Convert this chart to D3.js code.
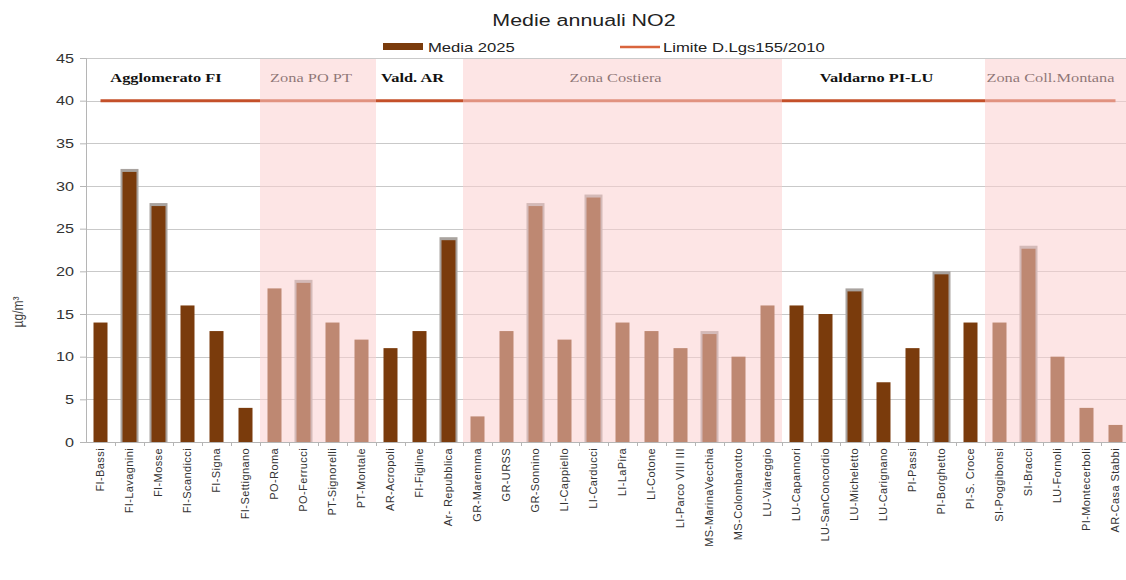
<!DOCTYPE html>
<html>
<head>
<meta charset="utf-8">
<script src="https://cdn.jsdelivr.net/npm/d3@7"></script>
<style>
  html, body { margin: 0; padding: 0; background: #fff; }
  svg { display: block; }
</style>
</head>
<body>
<svg id="chart" width="1126" height="580"></svg>
<script>
// Stations and their 2025 annual mean NO2 (µg/m³)
const stations = [
  "FI-Bassi", "FI-Lavagnini", "FI-Mosse", "FI-Scandicci", "FI-Signa", "FI-Settignano",
  "PO-Roma", "PO-Ferrucci", "PT-Signorelli", "PT-Montale",
  "AR-Acropoli", "FI-Figline", "Ar- Repubblica",
  "GR-Maremma", "GR-URSS", "GR-Sonnino", "LI-Cappiello", "LI-Carducci", "LI-LaPira",
  "LI-Cotone", "LI-Parco VIII III", "MS-MarinaVecchia", "MS-Colombarotto", "LU-Viareggio",
  "LU-Capannori", "LU-SanConcordio", "LU-Micheletto", "LU-Carignano", "PI-Passi",
  "PI-Borghetto", "PI-S. Croce",
  "SI-Poggibonsi", "SI-Bracci", "LU-Fornoli", "PI-Montecerboli", "AR-Casa Stabbi"
];
const media2025 = [
  14, 32, 28, 16, 13, 4,
  18, 19, 14, 12,
  11, 13, 24,
  3, 13, 28, 12, 29, 14, 13, 11, 13, 10, 16,
  16, 15, 18, 7, 11, 20, 14,
  14, 23, 10, 4, 2
];
// Stations drawn with a grey outline
const outlined = [
  "FI-Lavagnini", "FI-Mosse", "PO-Ferrucci", "Ar- Repubblica", "GR-Sonnino",
  "LI-Carducci", "MS-MarinaVecchia", "LU-Micheletto", "PI-Borghetto", "SI-Bracci"
];
// Legal limit (D.Lgs 155/2010)
const limitValue = 40;

// Zones
const zoneNames  = ["Agglomerato FI", "Zona PO PT", "Vald. AR", "Zona Costiera", "Valdarno PI-LU", "Zona Coll.Montana"];
const zoneFirst  = ["FI-Bassi", "PO-Roma", "AR-Acropoli", "GR-Maremma", "LU-Capannori", "SI-Poggibonsi"];
const zoneLast   = ["FI-Settignano", "PT-Montale", "Ar- Repubblica", "LU-Viareggio", "PI-S. Croce", "AR-Casa Stabbi"];
const zoneShaded = [false, true, false, true, false, true];

const yTicks = [0, 5, 10, 15, 20, 25, 30, 35, 40, 45];

const svg = d3.select("#chart");
const plotLeft = 86, plotRight = 1130, plotTop = 58, plotBottom = 442;
const sans = "'Liberation Sans', Arial, sans-serif";
const serif = "'Liberation Serif', 'Times New Roman', serif";
const stretch = 1.26; // horizontal stretch applied to horizontal text

const x = d3.scaleBand().domain(stations).range([plotLeft, plotRight]).paddingInner(0).paddingOuter(0);
const y = d3.scaleLinear().domain([0, 45]).range([plotBottom, plotTop]);
const bw = 14;
const cx = s => x(s) + x.bandwidth() / 2;

const dark = "#7a3b0c";

function hText(px, py, str, opts) {
  const t = svg.append("text")
    .attr("transform", `translate(${px},${py}) scale(${stretch},1)`)
    .style("font-family", opts.family || sans)
    .style("font-size", opts.size + "px")
    .style("font-weight", opts.weight || "normal")
    .attr("text-anchor", opts.anchor || "start")
    .attr("fill", opts.fill || "#222")
    .text(str);
  return t;
}

// Title
hText(584, 26, "Medie annuali NO2", { size: 17, anchor: "middle" });

// Legend
svg.append("rect").attr("x", 383).attr("y", 43).attr("width", 40).attr("height", 7).attr("fill", dark);
hText(428, 52, "Media 2025", { size: 13.2 });
svg.append("line").attr("x1", 620).attr("x2", 660).attr("y1", 47).attr("y2", 47)
  .attr("stroke", "#d9653d").attr("stroke-width", 2.5);
hText(663, 52, "Limite D.Lgs155/2010", { size: 13.2 });

// Gridlines
svg.append("g").selectAll("line").data(yTicks).join("line")
  .attr("x1", plotLeft).attr("x2", 1126)
  .attr("y1", d => Math.round(y(d)) + 0.5).attr("y2", d => Math.round(y(d)) + 0.5)
  .attr("stroke", "#c9c9c9").attr("stroke-width", 1);

// Y axis
const yAxis = d3.axisLeft(y).tickValues(yTicks).tickSize(6).tickPadding(5);
const gy = svg.append("g").attr("transform", `translate(${plotLeft},0)`).call(yAxis);
gy.select(".domain").attr("stroke", "#b5b5b5");
gy.selectAll(".tick line").attr("stroke", "#b5b5b5");
gy.selectAll(".tick text")
  .style("font-family", sans).style("font-size", "13.5px")
  .attr("fill", "#333")
  .attr("x", 0)
  .attr("transform", "translate(-12,0) scale(1.2,1)");

// Y axis title
svg.append("text")
  .attr("transform", "translate(18,312) rotate(-90) scale(1,1.25)")
  .attr("text-anchor", "middle")
  .attr("dy", "0.35em")
  .style("font-family", sans).style("font-size", "12px")
  .attr("fill", "#444")
  .text("µg/m³");

// X axis
const xAxis = d3.axisBottom(x).tickSize(0).tickPadding(6);
const gx = svg.append("g").attr("transform", `translate(0,${plotBottom})`).call(xAxis);
gx.select(".domain").attr("stroke", "#b5b5b5");
gx.selectAll(".tick text")
  .style("font-family", sans).style("font-size", "11px")
  .attr("fill", "#333")
  .attr("letter-spacing", 0.4)
  .attr("text-anchor", "end")
  .attr("transform", "rotate(-90)")
  .attr("x", -6).attr("y", 0).attr("dy", "0.35em");
// small separators between categories
svg.append("g").selectAll("line").data(stations.slice(1)).join("line")
  .attr("x1", d => x(d) + 0.5).attr("x2", d => x(d) + 0.5)
  .attr("y1", plotBottom).attr("y2", plotBottom + 4)
  .attr("stroke", "#b5b5b5");

// Bars
const barData = stations.map((s, i) => ({ s, v: media2025[i], o: outlined.includes(s) }));
const bars = svg.append("g");
bars.selectAll("rect.halo").data(barData.filter(d => d.o)).join("rect")
  .attr("class", "halo")
  .attr("x", d => cx(d.s) - bw / 2 - 2).attr("width", bw + 4)
  .attr("y", d => y(d.v)).attr("height", d => plotBottom - y(d.v))
  .attr("fill", "#a9a39f");
bars.selectAll("rect.bar").data(barData).join("rect")
  .attr("class", "bar")
  .attr("x", d => cx(d.s) - bw / 2).attr("width", bw)
  .attr("y", d => y(d.v) + (d.o ? 3 : 0)).attr("height", d => plotBottom - y(d.v) - (d.o ? 3 : 0))
  .attr("fill", dark);

// Limit line
const line = d3.line().x(d => cx(d)).y(() => y(limitValue));
svg.append("path").datum(stations).attr("d", line)
  .attr("fill", "none").attr("stroke", "#c4502a").attr("stroke-width", 3);

// Zone labels
zoneNames.forEach((name, i) => {
  const mid = (x(zoneFirst[i]) + x(zoneLast[i]) + x.bandwidth()) / 2 - 7;
  hText(mid, 82, name, {
    size: 13, family: serif, anchor: "middle",
    weight: zoneShaded[i] ? "normal" : "bold", fill: "#111"
  });
});

// Shaded zone overlays
svg.append("g").selectAll("rect").data(zoneNames.filter((d, i) => zoneShaded[i])).join("rect")
  .attr("x", d => x(zoneFirst[zoneNames.indexOf(d)]))
  .attr("width", d => x(zoneLast[zoneNames.indexOf(d)]) + x.bandwidth() - x(zoneFirst[zoneNames.indexOf(d)]))
  .attr("y", y(45) + 1)
  .attr("height", plotBottom - y(45) - 1)
  .attr("fill", "rgb(251,206,206)")
  .attr("fill-opacity", 0.53);
</script>
</body>
</html>
